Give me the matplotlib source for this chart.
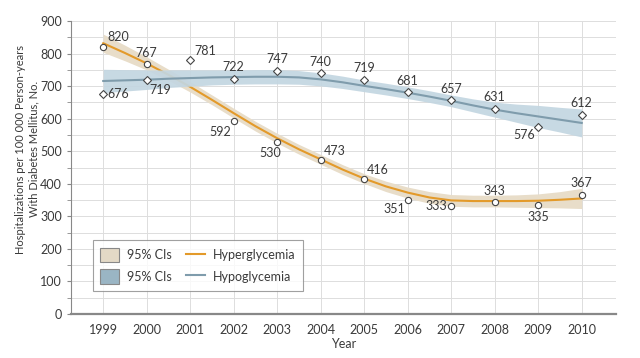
import numpy as np
import matplotlib
matplotlib.use("Agg")
import matplotlib.pyplot as plt
from matplotlib.patches import Patch
from matplotlib.lines import Line2D

plt.rcParams['font.family'] = ['Lato', 'DejaVu Sans']

# observed rates
years = [1999, 2000, 2001, 2002, 2003, 2004, 2005, 2006, 2007, 2008, 2009, 2010]
hyper_obs = [820, 767, np.nan, 592, 530, 473, 416, 351, 333, 343, 335, 367]
hypo_obs = [676, 719, 781, 722, 747, 740, 719, 681, 657, 631, 576, 612]

# fitted trend and 95% CI half-width, read at half-year steps
fit_years = [1999, 1999.5, 2000, 2000.5, 2001, 2001.5, 2002, 2002.5, 2003, 2003.5,
             2004, 2004.5, 2005, 2005.5, 2006, 2006.5, 2007, 2007.5, 2008, 2008.5,
             2009, 2009.5, 2010]
hyper_fit = [832, 802, 770, 735, 698, 658, 617, 577, 540, 506,
             475, 444, 416, 392, 373, 358, 349, 347, 347, 347,
             348, 351, 355]
hyper_ci = [28, 24, 20, 17, 16, 15, 15, 15, 15, 15,
            15, 15, 15, 16, 17, 18, 18, 18, 18, 19,
            21, 25, 31]
hypo_fit = [716, 718, 720, 723, 725, 727, 728, 729, 729, 727,
            721, 712, 701, 691, 680, 668, 655, 641, 628, 617,
            607, 597, 587]
hypo_ci = [36, 33, 30, 27, 25, 23, 22, 22, 22, 21,
           20, 19, 18, 18, 18, 18, 18, 20, 23, 28,
           34, 38, 43]

# label offsets in points (dx, dy, ha, va)
hyper_lab = [(3, 3, 'left', 'bottom'), (0, 4, 'center', 'bottom'), None,
             (-2, -3, 'right', 'top'), (-5, -4, 'center', 'top'),
             (2, 2, 'left', 'bottom'), (2, 2, 'left', 'bottom'),
             (-2, -2, 'right', 'top'), (-3, 0, 'right', 'center'),
             (0, 4, 'center', 'bottom'), (0, -4, 'center', 'top'),
             (0, 4, 'center', 'bottom')]
hypo_lab = [(3, 0, 'left', 'center'), (2, -3, 'left', 'top'), (3, 2, 'left', 'bottom'),
            (0, 4, 'center', 'bottom'), (0, 4, 'center', 'bottom'),
            (0, 4, 'center', 'bottom'), (0, 4, 'center', 'bottom'),
            (0, 4, 'center', 'bottom'), (0, 4, 'center', 'bottom'),
            (0, 4, 'center', 'bottom'), (-2, -2, 'right', 'top'),
            (0, 4, 'center', 'bottom')]

txt = '#3a3a3a'
fs = 9
c_hyper = '#E39A2A'
c_hyper_band = '#E8DDC9'
c_hypo = '#7F9CAC'
c_hypo_band = '#C3D6E1'

fig = plt.figure(figsize=(6.4, 3.58), dpi=100)
ax = fig.add_axes([0.111, 0.123, 0.851, 0.818])

fy = np.array(fit_years)
hf, hc = np.array(hyper_fit), np.array(hyper_ci)
of, oc = np.array(hypo_fit), np.array(hypo_ci)

ax.fill_between(fy, hf - hc, hf + hc, color=c_hyper_band, lw=0, zorder=2)
ax.plot(fy, hf, color=c_hyper, lw=1.5, zorder=3)
ax.fill_between(fy, of - oc, of + oc, color=c_hypo_band, lw=0, alpha=0.92, zorder=4)
ax.plot(fy, of, color=c_hypo, lw=1.5, zorder=5)

ax.plot(years, hyper_obs, 'o', ms=4.5, mfc='white', mec='#444444', mew=0.8, ls='none', zorder=6)
ax.plot(years, hypo_obs, 'D', ms=4.5, mfc='white', mec='#444444', mew=0.8, ls='none', zorder=6)

for yr, v, lab in zip(years, hyper_obs, hyper_lab):
    if lab is None or np.isnan(v):
        continue
    ax.annotate(f"{int(v)}", (yr, v), xytext=(lab[0], lab[1]), textcoords='offset points',
                ha=lab[2], va=lab[3], fontsize=fs, color=txt, zorder=7)
for yr, v, lab in zip(years, hypo_obs, hypo_lab):
    ax.annotate(f"{int(v)}", (yr, v), xytext=(lab[0], lab[1]), textcoords='offset points',
                ha=lab[2], va=lab[3], fontsize=fs, color=txt, zorder=7)

ax.set_xlim(1998.26, 2010.78)
ax.set_ylim(0, 900)
ax.set_xticks(years)
ax.set_yticks(range(0, 901, 100))
ax.set_yticks(range(50, 900, 100), minor=True)
ax.grid(True, which='both', color='#DDDDDD', lw=0.7, zorder=0)
ax.set_axisbelow(True)

for s in ['top', 'right']:
    ax.spines[s].set_visible(False)
ax.spines['left'].set_color('#888888')
ax.spines['bottom'].set_color('#888888')
ax.spines['bottom'].set_linewidth(1.6)
ax.tick_params(axis='x', length=0, pad=7, labelsize=fs, labelcolor=txt)
ax.tick_params(axis='y', which='major', length=3, color='#888888', labelsize=fs, labelcolor=txt)
ax.tick_params(axis='y', which='minor', length=3, color='#888888')

ax.set_xlabel('Year', fontsize=fs, color=txt, labelpad=2)
ax.set_ylabel('Hospitalizations per 100 000 Person-years\nWith Diabetes Mellitus, No.',
              fontsize=8, color=txt, linespacing=1.3)
ax.yaxis.set_label_coords(-0.058, 0.563)

handles = [Patch(facecolor='#E3D9C6', edgecolor='#888888', lw=0.8),
           Patch(facecolor='#9AB5C4', edgecolor='#888888', lw=0.8),
           Line2D([], [], color=c_hyper, lw=1.5),
           Line2D([], [], color=c_hypo, lw=1.5)]
labels = ['95% CIs', '95% CIs', 'Hyperglycemia', 'Hypoglycemia']
leg = ax.legend(handles, labels, ncol=2, loc='lower left', bbox_to_anchor=(0.04, 0.078),
                fontsize=fs, frameon=True, fancybox=False, edgecolor='#888888',
                handlelength=1.5, handleheight=1.4, handletextpad=0.6, columnspacing=1.2,
                borderpad=0.6, labelspacing=0.55, borderaxespad=0)
leg.get_frame().set_linewidth(0.8)
for t in leg.get_texts():
    t.set_color(txt)

fig.savefig('out.png', dpi=100)
